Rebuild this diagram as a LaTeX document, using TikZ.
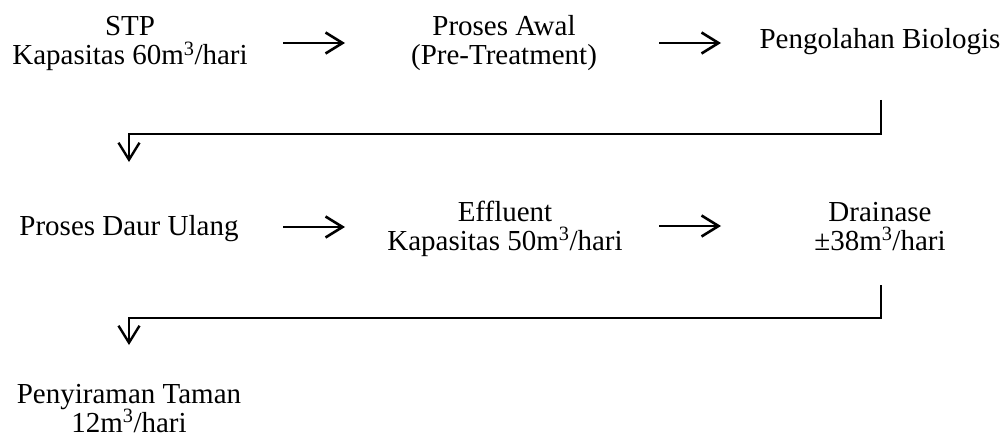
\documentclass[tikz,border=0pt]{standalone}
\usepackage{fontspec}
\setmainfont{Liberation Serif}
\usetikzlibrary{arrows.meta}
\begin{document}
\begin{tikzpicture}[x=1pt,y=-1pt,
  lbl/.style={align=center,inner sep=0pt,font=\fontsize{29}{29}\selectfont},
  flow/.style={line width=2.6pt,-{Straight Barb[length=17pt,width=21pt,line width=2.6pt]}},
  ret/.style={line width=2.8pt,-{Straight Barb[length=17pt,width=21pt,line width=2.4pt]}}]
\useasboundingbox (0,0) rectangle (1005,436);
% anchor=base of a multi-line node is the baseline of its last line
\node[lbl,anchor=base] (stp) at (130,65) {STP\\Kapasitas 60m\textsuperscript{3}/hari};
\node[lbl,anchor=base] (awal) at (504,65) {Proses Awal\\(Pre-Treatment)};
\node[lbl,anchor=base] (bio) at (880,49) {Pengolahan Biologis};
\node[lbl,anchor=base] (daur) at (129,235) {Proses Daur Ulang};
\node[lbl,anchor=base] (eff) at (505,250) {Effluent\\Kapasitas 50m\textsuperscript{3}/hari};
\node[lbl,anchor=base] (drain) at (880,250) {Drainase\\\textpm38m\textsuperscript{3}/hari};
\node[lbl,anchor=base] (taman) at (129,432) {Penyiraman Taman\\12m\textsuperscript{3}/hari};
% horizontal arrows
\coordinate (a1s) at (283,43); \coordinate (a1e) at (345,43);
\coordinate (a2s) at (659,43); \coordinate (a2e) at (721,43);
\coordinate (b1s) at (283,227); \coordinate (b1e) at (345,227);
\coordinate (b2s) at (659,226); \coordinate (b2e) at (721,226);
\draw[flow] (a1s) -- (a1e);
\draw[flow] (a2s) -- (a2e);
\draw[flow] (b1s) -- (b1e);
\draw[flow] (b2s) -- (b2e);
% return connectors
\coordinate (r1a) at (881,100); \coordinate (r1b) at (881,134); \coordinate (r1c) at (129,134); \coordinate (r1d) at (129,162);
\draw[ret] (r1a) -- (r1b) -- (r1c) -- (r1d);
\coordinate (r2a) at (881,285); \coordinate (r2b) at (881,318); \coordinate (r2c) at (129,318); \coordinate (r2d) at (129,345);
\draw[ret] (r2a) -- (r2b) -- (r2c) -- (r2d);
\end{tikzpicture}
\end{document}
